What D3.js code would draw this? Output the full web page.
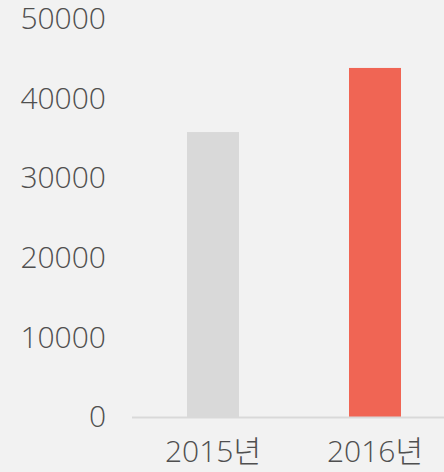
<!DOCTYPE html>
<html>
<head>
<meta charset="utf-8">
<script src="https://cdn.jsdelivr.net/npm/d3@7"></script>
<style>
  html, body { margin: 0; padding: 0; background: #f2f2f2; }
  svg { display: block; }
  .tick text { font-family: "Open Sans", "Noto Sans CJK KR", sans-serif; font-weight: 300; fill: #4f4f4f; }
</style>
</head>
<body>
<script>
const years = ["2015년", "2016년"];
const values = [35800, 43850];
const barColors = ["#d9d9d9", "#f06554"];
const yTicks = [0, 10000, 20000, 30000, 40000, 50000];

const w = 444, h = 472;

const svg = d3.select("body")
  .append("svg")
  .attr("width", w)
  .attr("height", h);

const xScale = d3.scaleBand()
  .domain(years)
  .range([132, 456])
  .paddingInner(0.679)
  .paddingOuter(0.3395);

const yScale = d3.scaleLinear()
  .domain([0, 50000])
  .range([417, 19]);

// bars
svg.selectAll("rect.bar")
  .data(years)
  .enter()
  .append("rect")
  .attr("class", "bar")
  .attr("x", d => xScale(d))
  .attr("y", (d, i) => yScale(values[i]))
  .attr("width", xScale.bandwidth())
  .attr("height", (d, i) => yScale(0) - yScale(values[i]))
  .attr("fill", (d, i) => barColors[i]);

// y axis, labels only
const yAxis = d3.axisLeft(yScale)
  .tickValues(yTicks)
  .tickFormat(d => d)
  .tickSize(0)
  .tickPadding(0);

const gy = svg.append("g")
  .attr("transform", "translate(106, 0)")
  .call(yAxis);
gy.select(".domain").remove();
gy.selectAll("text").style("font-size", "30px");

// x axis
const xAxis = d3.axisBottom(xScale)
  .tickSize(0)
  .tickPadding(24);

const gx = svg.append("g")
  .attr("transform", "translate(0, " + yScale(0) + ")")
  .call(xAxis);
gx.select(".domain")
  .attr("d", "M132,0.5H444")
  .attr("stroke", "#d9d9d9")
  .attr("stroke-width", 2);
gx.selectAll("text").style("font-size", "30px");
</script>
</body>
</html>
